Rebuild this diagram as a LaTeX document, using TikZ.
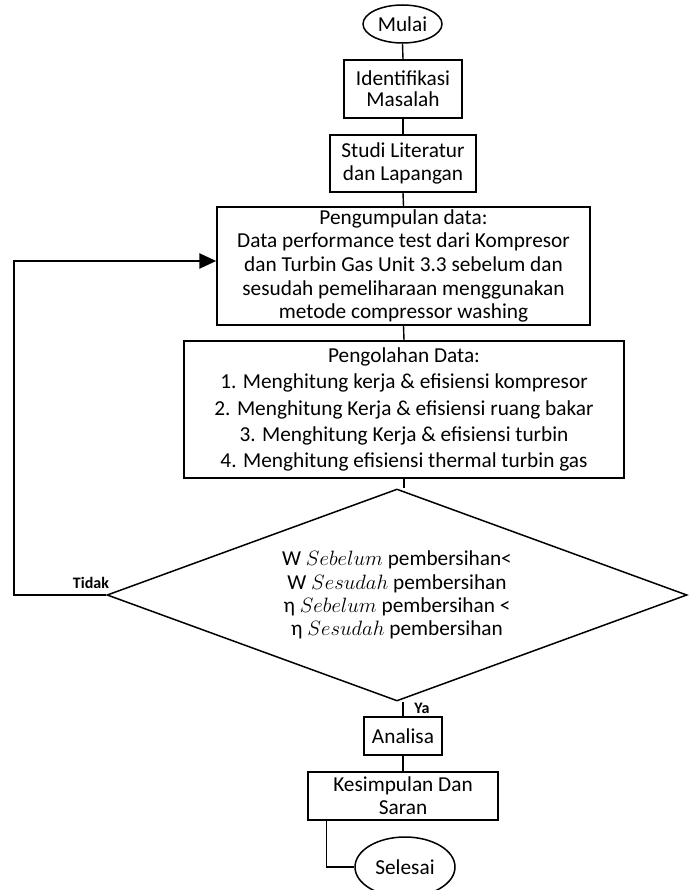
\documentclass[tikz,border=0pt]{standalone}
\usepackage{fontspec}
\setmainfont{Carlito}
\usetikzlibrary{shapes.geometric,arrows.meta}
\begin{document}
\begin{tikzpicture}[x=1pt,y=-1pt,
  every node/.style={font=\fontsize{21.3}{23.5}\selectfont},
  box/.style={draw, line width=1.5pt, rectangle, align=center, inner sep=0pt},
  term/.style={draw, ellipse, line width=1.5pt, inner sep=0pt},
  decide/.style={draw, diamond, line width=1.5pt, align=center, inner sep=0pt, aspect=2.736},
  conn/.style={line width=1.4pt},
  loopline/.style={line width=2.6pt},
  lbl/.style={font=\fontsize{16}{18}\selectfont\bfseries}]
\useasboundingbox (0,0) rectangle (694,890);
% nodes
\node[term, minimum width=79, minimum height=38] (mulai) at (402.5,24) {Mulai};
\node[box, minimum width=118, minimum height=58, font=\fontsize{21.3}{21}\selectfont] (ident) at (403,89) {Identifikasi\\Masalah};
\node[box, minimum width=146, minimum height=57, font=\fontsize{21.3}{23}\selectfont] (studi) at (403,163.5) {Studi Literatur\\dan Lapangan};
\node[box, minimum width=373, minimum height=118, font=\fontsize{21.3}{23.7}\selectfont] (kumpul) at (403.5,266) {Pengumpulan data:\\Data performance test dari Kompresor\\dan Turbin Gas Unit 3.3 sebelum dan\\sesudah pemeliharaan menggunakan\\metode compressor washing};
\node[box, minimum width=440, minimum height=137, font=\fontsize{21.3}{26.2}\selectfont] (olah) at (404,409.5) {Pengolahan Data:\\1. Menghitung kerja \& efisiensi kompresor\\2. Menghitung Kerja \& efisiensi ruang bakar\\3. Menghitung Kerja \& efisiensi turbin\\4. Menghitung efisiensi thermal turbin gas};
\node[decide, minimum width=580, minimum height=212, font=\fontsize{21.3}{23.3}\selectfont] (dia) at (397,595) {W $Sebelum$ pembersihan<\\W $Sesudah$ pembersihan\\η $Sebelum$ pembersihan <\\η $Sesudah$ pembersihan};
\node[box, minimum width=78, minimum height=38] (analisa) at (403,736) {Analisa};
\node[box, minimum width=190, minimum height=48, font=\fontsize{21.3}{23}\selectfont] (kes) at (403,796) {Kesimpulan Dan\\Saran};
\node[term, minimum width=100, minimum height=60] (selesai) at (405,867) {Selesai};
% labels
\node[lbl] (tidak) at (91,583) {Tidak};
\node[lbl] (ya) at (422,708) {Ya};
% connectors
\draw[conn] (mulai.south) -- (ident.north);
\draw[conn] (ident.south) -- (studi.north);
\draw[conn] (studi.south) -- (kumpul.north);
\draw[conn] (kumpul.south) -- (olah.north);
\draw[conn] (olah.south) -- (olah.south |- dia.north);
\draw[conn] (analisa.north) -- (analisa.north |- dia.south);
\draw[conn] (analisa.south) -- (kes.north);
\coordinate (kesout) at ([xshift=19pt]kes.south west);
\draw[conn] (kesout) -- (kesout |- selesai.west) -- (selesai.west);
\coordinate (loopA) at (14,595);
\coordinate (loopB) at (14,261);
\draw[conn] (dia.west) -- (loopA) -- (loopB);
\draw[loopline, -{Triangle[length=17pt,width=15pt]}] ([xshift=-0.7pt]loopB) -- (loopB -| kumpul.west);
\end{tikzpicture}
\end{document}
